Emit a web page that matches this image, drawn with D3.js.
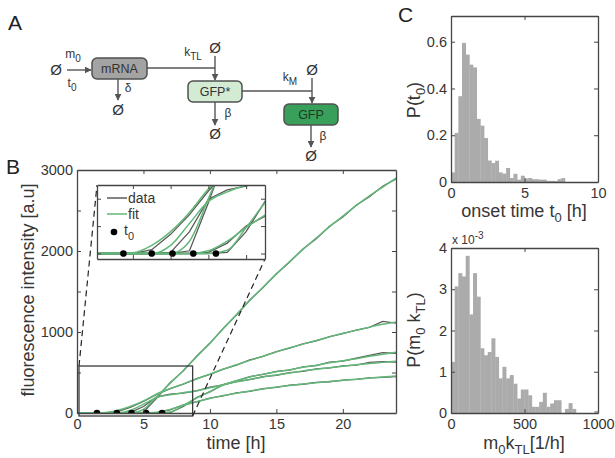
<!DOCTYPE html>
<html>
<head>
<meta charset="utf-8">
<script src="https://cdn.jsdelivr.net/npm/d3@7/dist/d3.min.js"></script>
<style>
  body { margin: 0; background: #fff; }
  svg text { font-family: "Liberation Sans", Arial, sans-serif; fill: #363636; }
</style>
</head>
<body>
<svg id="fig" width="615" height="458"></svg>
<script>
// ---- panel B: single-cell traces (time grid in hours) ----
const timeGrid = [0, 1, 2, 3, 4, 5, 6, 7, 8, 9, 10, 11, 12, 13, 14, 15, 16, 17, 18, 19, 20, 21, 22, 23, 24];
const onsetTimes = [1.5, 3.0, 4.1, 5.2, 6.4];

const fitA = [0, 0, 3, 30, 80, 150, 235, 300, 360, 420, 480, 540, 595, 650, 700, 755, 805, 850, 895, 940, 985, 1020, 1060, 1095, 1125];
const fitB = [0, 0, 0, 0, 30, 110, 190, 225, 250, 275, 312, 350, 385, 415, 445, 470, 495, 520, 540, 560, 578, 595, 610, 625, 640];
const fitC = [0, 0, 0, 0, 0, 45, 200, 365, 525, 695, 865, 1040, 1215, 1390, 1555, 1715, 1870, 2020, 2160, 2300, 2430, 2560, 2680, 2790, 2900];
const fitD = [0, 0, 0, 0, 0, 0, 10, 45, 95, 140, 180, 215, 245, 272, 297, 320, 340, 358, 374, 389, 403, 417, 431, 444, 457];
const fitE = [0, 0, 0, 0, 0, 0, 0, 12, 95, 185, 265, 345, 400, 445, 480, 510, 535, 565, 590, 620, 645, 670, 700, 725, 750];

const dataA = [0, 0, 0, 14, 70, 142, 228, 302, 356, 424, 476, 542, 592, 655, 698, 758, 800, 853, 890, 944, 980, 1024, 1058, 1130, 1110];
const dataB = [0, 0, 0, 0, 4, 80, 198, 232, 246, 272, 318, 346, 388, 412, 448, 466, 498, 515, 545, 556, 582, 592, 625, 635, 628];
const dataC = [0, 0, 0, 0, 0, 10, 185, 375, 520, 700, 860, 1045, 1210, 1395, 1550, 1720, 1865, 2025, 2150, 2305, 2420, 2565, 2670, 2800, 2890];
const dataD = [0, 0, 0, 0, 0, 0, 4, 38, 100, 136, 184, 212, 248, 268, 300, 317, 343, 355, 377, 386, 406, 414, 434, 441, 450];
const dataE = [0, 0, 0, 0, 0, 0, 0, 4, 80, 190, 260, 350, 396, 450, 476, 514, 530, 570, 585, 628, 640, 676, 712, 745, 735];

const dataSeries = [dataA, dataB, dataC, dataD, dataE];
const fitSeries = [fitA, fitB, fitC, fitD, fitE];

const mainXTicks = [0, 5, 10, 15, 20];
const mainYTicks = [0, 500, 1000, 1500, 2000, 2500, 3000];
const insetXTicks = [2, 4, 6, 8];
const insetYTicks = [0, 100, 200];
const zoomWindowX = [0.15, 8.7];
const zoomWindowY = [-37, 580];

// ---- panel C: histograms ----
const onsetBinWidth = 0.25;
const onsetDensity = [0.041, 0.21, 0.367, 0.595, 0.545, 0.502, 0.49, 0.27, 0.241, 0.188,
  0.092, 0.081, 0.091, 0.041, 0.036, 0.06, 0.017, 0.035, 0.01, 0.027,
  0.015, 0.017, 0.012, 0.012, 0.01, 0.01, 0.005, 0.005, 0.004, 0.012,
  0.017, 0, 0, 0, 0, 0, 0, 0, 0, 0];
const onsetXTicks = [0, 5, 10];
const onsetYTicks = [0, 0.2, 0.4, 0.6];

const rateBinWidth = 25;
const rateDensity = [1.24, 3.07, 3.39, 3.31, 3.81, 2.39, 3.39, 2.82, 1.57, 1.40,
  1.48, 1.81, 1.36, 0.84, 1.12, 0.84, 0.92, 0.71, 0.35, 0.57,
  0.57, 0.43, 0.15, 0.15, 0.27, 0.49, 0.15, 0.23, 0.31, 0.31,
  0, 0.1, 0.24, 0.1, 0, 0, 0, 0, 0, 0.05];
const rateXTicks = [0, 500, 1000];
const rateYTicks = [0, 1, 2, 3, 4];

const svg = d3.select("#fig");
const axisColor = "#454545";
const fitColor = "#62b878";
const dataColor = "#5a5a5a";

// panel letters
[["A", 8, 30], ["B", 6, 174], ["C", 398, 22]].forEach(([t, px, py]) => {
  svg.append("text").attr("x", px).attr("y", py).attr("font-size", 21).style("fill", "#222").text(t);
});

// ================= panel A : reaction scheme =================
const defs = svg.append("defs");
defs.append("marker").attr("id", "arr")
  .attr("viewBox", "0 0 10 10").attr("refX", 9).attr("refY", 5)
  .attr("markerWidth", 7).attr("markerHeight", 7).attr("markerUnits", "userSpaceOnUse")
  .attr("orient", "auto")
  .append("path").attr("d", "M0,0 L10,5 L0,10 z").attr("fill", "#555");

const A = svg.append("g");
function line(x1, y1, x2, y2, arrow) {
  const l = A.append("line").attr("x1", x1).attr("y1", y1).attr("x2", x2).attr("y2", y2)
    .attr("stroke", "#555").attr("stroke-width", 1.4);
  if (arrow) l.attr("marker-end", "url(#arr)");
}
function label(x, y, txt, sub, size) {
  const t = A.append("text").attr("x", x).attr("y", y).attr("font-size", size || 12)
    .attr("text-anchor", "middle").style("fill", "#333");
  t.append("tspan").text(txt);
  if (sub) t.append("tspan").attr("dy", 4).attr("font-size", 10).text(sub);
  return t;
}
function box(x, y, w, h, fill, txt, txtColor) {
  A.append("rect").attr("x", x).attr("y", y).attr("width", w).attr("height", h)
    .attr("rx", 5).attr("fill", fill).attr("stroke", "#505050").attr("stroke-width", 1.5);
  A.append("text").attr("x", x + w / 2).attr("y", y + h / 2 + 4.5).attr("font-size", 12.5)
    .attr("text-anchor", "middle").style("fill", txtColor || "#333").text(txt);
}
const empty = "\u00D8";

label(56, 75, empty, null, 15);
line(67, 70, 91, 70, true);
label(73, 58, "m", "0");
label(72, 87, "t", "0");
box(92, 58, 55, 21, "#a3a3a3", "mRNA");
line(118, 79, 118, 100, true);
label(118, 115, empty, null, 15);
label(128, 92, "\u03B4");

line(147, 68, 215, 68);
label(215, 53, empty, null, 15);
line(215, 56, 215, 80, true);
label(193, 56, "k", "TL");
box(188, 81, 54, 21, "#d3ead3", "GFP*");
line(215, 102, 215, 125, true);
label(215, 139, empty, null, 15);
label(228, 117, "\u03B2");

line(242, 91, 312, 91);
label(312, 75, empty, null, 15);
line(312, 78, 312, 103, true);
label(290, 81, "k", "M");
box(284, 104, 54, 21, "#38a05a", "GFP", "#1e3a26");
line(311, 125, 311, 147, true);
label(311, 161, empty, null, 15);
label(323, 140, "\u03B2");

// ================= panel B : traces =================
const x = d3.scaleLinear().domain([0, 24]).range([77, 396]);
const y = d3.scaleLinear().domain([0, 3000]).range([413, 170]);

function frame(g, xs, ys, xt, yt, fmtX, fmtY, fs) {
  const [x0, x1] = xs.range();
  const [y0, y1] = ys.range();
  const b = g.append("g").attr("transform", `translate(0,${y0})`)
    .call(d3.axisBottom(xs).tickValues(xt).tickSizeInner(-4).tickSizeOuter(0).tickPadding(6).tickFormat(fmtX));
  const t = g.append("g").attr("transform", `translate(0,${y1})`)
    .call(d3.axisTop(xs).tickValues(xt).tickSizeInner(-4).tickSizeOuter(0).tickFormat(""));
  const l = g.append("g").attr("transform", `translate(${x0},0)`)
    .call(d3.axisLeft(ys).tickValues(yt).tickSizeInner(-4).tickSizeOuter(0).tickPadding(4).tickFormat(fmtY));
  const r = g.append("g").attr("transform", `translate(${x1},0)`)
    .call(d3.axisRight(ys).tickValues(yt).tickSizeInner(-4).tickSizeOuter(0).tickFormat(""));
  [b, t, l, r].forEach(a => {
    a.attr("font-family", null);
    a.selectAll("path.domain").attr("stroke", axisColor).attr("stroke-width", 1.3);
    a.selectAll(".tick line").attr("stroke", axisColor);
    a.selectAll(".tick text").attr("font-size", fs || 14.5).style("fill", "#363636");
  });
}

const B = svg.append("g");
defs.append("clipPath").attr("id", "clipMain").append("rect")
  .attr("x", 77).attr("y", 170).attr("width", 319).attr("height", 243);

const mainLine = d3.line().x((d, i) => x(timeGrid[i])).y(d => y(d));
const curves = B.append("g").attr("clip-path", "url(#clipMain)");
dataSeries.forEach(s => curves.append("path").attr("d", mainLine.curve(d3.curveLinear)(s))
  .attr("fill", "none").attr("stroke", dataColor).attr("stroke-width", 1.3));
fitSeries.forEach(s => curves.append("path").attr("d", mainLine.curve(d3.curveMonotoneX)(s))
  .attr("fill", "none").attr("stroke", fitColor).attr("stroke-width", 1.5));
curves.selectAll("circle.t0").data(onsetTimes).join("circle")
  .attr("cx", d => x(d)).attr("cy", y(0)).attr("r", 3.3).attr("fill", "#000");

frame(B, x, y, mainXTicks, mainYTicks, d => d, d => (d % 1000 === 0 ? d : ""));

B.append("text").attr("x", 236).attr("y", 449).attr("text-anchor", "middle")
  .attr("font-size", 18).text("time [h]");
B.append("text").attr("transform", "translate(34,290) rotate(-90)").attr("text-anchor", "middle")
  .attr("font-size", 18).text("fluorescence intensity [a.u]");

// zoom window in main plot
const zx0 = x(zoomWindowX[0]), zx1 = x(zoomWindowX[1]);
const zy0 = y(zoomWindowY[1]), zy1 = y(zoomWindowY[0]);
B.append("rect").attr("x", zx0).attr("y", zy0).attr("width", zx1 - zx0).attr("height", zy1 - zy0)
  .attr("fill", "none").attr("stroke", "#3a3a3a").attr("stroke-width", 1.3);

// inset
const xi = d3.scaleLinear().domain([0.1, 9.0]).range([97, 265]);
const yi = d3.scaleLinear().domain([-20, 250]).range([259, 185]);
B.append("line").attr("x1", zx0).attr("y1", zy0).attr("x2", 97).attr("y2", 185)
  .attr("stroke", "#222").attr("stroke-width", 1.2).attr("stroke-dasharray", "6,4");
B.append("line").attr("x1", zx1).attr("y1", zy1).attr("x2", 265).attr("y2", 259)
  .attr("stroke", "#222").attr("stroke-width", 1.2).attr("stroke-dasharray", "6,4");

const I = B.append("g");
I.append("rect").attr("x", 97).attr("y", 185).attr("width", 168).attr("height", 74).attr("fill", "#fff");
defs.append("clipPath").attr("id", "clipInset").append("rect")
  .attr("x", 97).attr("y", 185).attr("width", 168).attr("height", 74);
const insetLine = d3.line().x((d, i) => xi(timeGrid[i])).y(d => yi(d));
const ic = I.append("g").attr("clip-path", "url(#clipInset)");
dataSeries.forEach(s => ic.append("path").attr("d", insetLine.curve(d3.curveLinear)(s))
  .attr("fill", "none").attr("stroke", dataColor).attr("stroke-width", 1.3));
fitSeries.forEach(s => ic.append("path").attr("d", insetLine.curve(d3.curveMonotoneX)(s))
  .attr("fill", "none").attr("stroke", fitColor).attr("stroke-width", 1.5));
ic.selectAll("circle").data(onsetTimes).join("circle")
  .attr("cx", d => xi(d)).attr("cy", yi(0)).attr("r", 3.3).attr("fill", "#000");
frame(I, xi, yi, insetXTicks, insetYTicks, () => "", () => "");

// inset legend
const lg = I.append("g");
lg.append("line").attr("x1", 107).attr("x2", 127).attr("y1", 198).attr("y2", 198)
  .attr("stroke", dataColor).attr("stroke-width", 1.5);
lg.append("text").attr("x", 128).attr("y", 203).attr("font-size", 14).text("data");
lg.append("line").attr("x1", 107).attr("x2", 127).attr("y1", 214).attr("y2", 214)
  .attr("stroke", fitColor).attr("stroke-width", 1.5);
lg.append("text").attr("x", 128).attr("y", 219).attr("font-size", 14).text("fit");
lg.append("circle").attr("cx", 114).attr("cy", 232).attr("r", 3.3).attr("fill", "#000");
const lt = lg.append("text").attr("x", 124).attr("y", 235).attr("font-size", 14);
lt.append("tspan").text("t");
lt.append("tspan").attr("dy", 5).attr("font-size", 11).text("0");

// ================= panel C : histograms =================
function histogram(values, binW, xs, ys, g) {
  g.selectAll("rect.bar").data(values).join("rect").attr("class", "bar")
    .attr("x", (d, i) => xs(i * binW))
    .attr("width", (d, i) => xs((i + 1) * binW) - xs(i * binW) + 0.3)
    .attr("y", d => ys(d))
    .attr("height", d => ys(0) - ys(d))
    .attr("fill", "#ababab");
}

const C1 = svg.append("g");
const xc1 = d3.scaleLinear().domain([0, 10]).range([451, 598]);
const yc1 = d3.scaleLinear().domain([0, 0.71]).range([182, 16]);
histogram(onsetDensity, onsetBinWidth, xc1, yc1, C1);
frame(C1, xc1, yc1, onsetXTicks, onsetYTicks, d => d, d => (d === 0 ? "0" : d3.format(".1f")(d)));
const l1 = C1.append("text").attr("transform", "translate(420,100) rotate(-90)")
  .attr("text-anchor", "middle").attr("font-size", 18);
l1.append("tspan").text("P(t");
l1.append("tspan").attr("dy", 5).attr("font-size", 13).text("0");
l1.append("tspan").attr("dy", -5).text(")");
const x1l = C1.append("text").attr("x", 524).attr("y", 217).attr("text-anchor", "middle").attr("font-size", 18);
x1l.append("tspan").text("onset time t");
x1l.append("tspan").attr("dy", 5).attr("font-size", 13).text("0");
x1l.append("tspan").attr("dy", -5).text(" [h]");

const C2 = svg.append("g");
const xc2 = d3.scaleLinear().domain([0, 1000]).range([451, 598]);
const yc2 = d3.scaleLinear().domain([0, 4]).range([413, 248]);
histogram(rateDensity, rateBinWidth, xc2, yc2, C2);
frame(C2, xc2, yc2, rateXTicks, rateYTicks, d => d, d => d);
const ex = C2.append("text").attr("x", 452).attr("y", 244).attr("font-size", 12);
ex.append("tspan").text("x 10");
ex.append("tspan").attr("dy", -5).attr("font-size", 10).text("-3");
const l2 = C2.append("text").attr("transform", "translate(420,330) rotate(-90)")
  .attr("text-anchor", "middle").attr("font-size", 18);
l2.append("tspan").text("P(m");
l2.append("tspan").attr("dy", 5).attr("font-size", 13).text("0");
l2.append("tspan").attr("dy", -5).text(" k");
l2.append("tspan").attr("dy", 5).attr("font-size", 13).text("TL");
l2.append("tspan").attr("dy", -5).text(")");
const x2l = C2.append("text").attr("x", 524).attr("y", 449).attr("text-anchor", "middle").attr("font-size", 18);
x2l.append("tspan").text("m");
x2l.append("tspan").attr("dy", 5).attr("font-size", 13).text("0");
x2l.append("tspan").attr("dy", -5).text("k");
x2l.append("tspan").attr("dy", 5).attr("font-size", 13).text("TL");
x2l.append("tspan").attr("dy", -5).text("[1/h]");
</script>
</body>
</html>
